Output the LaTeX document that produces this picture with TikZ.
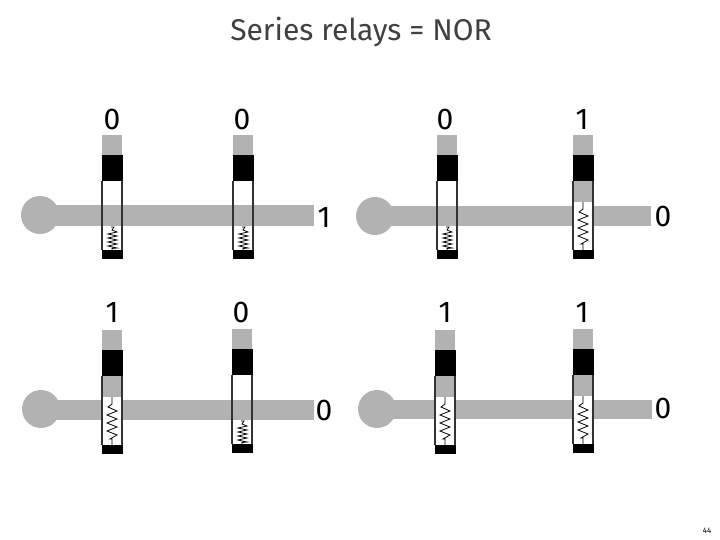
\documentclass[tikz,border=0pt]{standalone}
\usepackage{fontspec}
\setmainfont{Fira Sans}
\definecolor{relaygray}{HTML}{B2B2B2}
\tikzset{
  x=1pt,y=-1pt,
  bar/.style={draw=none,fill=relaygray},
  ball/.style={circle,fill=relaygray,draw=none,minimum size=38pt,inner sep=0pt},
  plate/.style={fill=black,draw=none},
  shell/.style={draw=black!80,line width=1.2pt},
  coil/.style={draw=black,line width=.8pt,line join=miter},
  bit/.style={font=\fontsize{30}{30}\selectfont,inner sep=0pt,anchor=center},
  titletext/.style={font=\fontsize{30}{32}\selectfont,text=black!75,inner sep=0pt}
}
% relay drawn from the top of its grey rod: #1 centre x, #2 top y
\newcommand\relayopen[2]{%
  \fill[relaygray] (#1-10,#2) rectangle (#1+10,#2+20);
  \fill[plate] (#1-10.5,#2+20) rectangle (#1+10.5,#2+46);
  \fill[plate] (#1-10.5,#2+115) rectangle (#1+10.5,#2+124);
  \draw[shell] (#1-10,#2+46) -- (#1-10,#2+115) (#1+10,#2+46) -- (#1+10,#2+115);
  \draw[coil] (#1-1,#2+92) -- (#1+2,#2+92) -- (#1,#2+95) -- (#1+5,#2+97) -- (#1-4,#2+99) -- (#1+5,#2+101) -- (#1-4,#2+103) -- (#1+5,#2+105) -- (#1-4,#2+107) -- (#1+5,#2+109) -- (#1-4,#2+111) -- (#1,#2+112) -- (#1+5,#2+113) -- (#1,#2+113.5) -- (#1,#2+115);
}
\newcommand\relayshut[2]{%
  \fill[relaygray] (#1-10,#2) rectangle (#1+10,#2+20);
  \fill[plate] (#1-10.5,#2+20) rectangle (#1+10.5,#2+46);
  \fill[relaygray] (#1-10,#2+46) rectangle (#1+10,#2+67);
  \fill[white] (#1-10,#2+67) rectangle (#1+10,#2+115);
  \fill[plate] (#1-10.5,#2+115) rectangle (#1+10.5,#2+124);
  \draw[shell] (#1-10,#2+46) -- (#1-10,#2+115) (#1+10,#2+46) -- (#1+10,#2+115);
  \draw[coil] (#1,#2+67) -- (#1,#2+74) -- (#1-4,#2+77) -- (#1+5,#2+81) -- (#1-5,#2+85) -- (#1+5,#2+89) -- (#1-5,#2+93) -- (#1+5,#2+97) -- (#1-5,#2+101) -- (#1+5,#2+105) -- (#1-2,#2+109) -- (#1,#2+109) -- (#1,#2+115);
}
\begin{document}
\begin{tikzpicture}
\useasboundingbox[fill=white] (0,0) rectangle (720,540);
\node[titletext] (title) at (361,32) {Series relays = NOR};

% bars, behind the relays
\node[ball] (ballA) at (40,215) {};
\coordinate (endA) at (314,216);
\fill[bar] (ballA.center) ++(0,-9.5) rectangle (endA|-0,226);
\node[ball] (ballB) at (375,216) {};
\coordinate (endB) at (651,216);
\fill[bar] (ballB.center) ++(0,-10) rectangle (endB|-0,226);
\node[ball] (ballC) at (41,409) {};
\coordinate (endC) at (314,410);
\fill[bar] (ballC.center) ++(0,-9) rectangle (endC|-0,420);
\node[ball] (ballD) at (377,409) {};
\coordinate (endD) at (652,408);
\fill[bar] (ballD.center) ++(0,-9) rectangle (endD|-0,419);

% relays
\relayopen{112}{135}
\relayopen{243}{135}
\relayopen{447}{135}
\relayshut{583}{135}
\relayshut{112}{330}
\relayopen{242}{329}
\relayshut{445}{330}
\relayshut{583}{329}

% input bits
\node[bit] (a1) at (112,119) {0};
\node[bit] (a2) at (242,119) {0};
\node[bit] (b1) at (445,119) {0};
\node[bit] (b2) at (582,119) {1};
\node[bit] (c1) at (112,312) {1};
\node[bit] (c2) at (241,312) {0};
\node[bit] (d1) at (445,312) {1};
\node[bit] (d2) at (582,312) {1};

% output bits
\node[bit] (outA) at (324,217) {1};
\node[bit] (outB) at (663,216) {0};
\node[bit] (outC) at (324,410) {0};
\node[bit] (outD) at (663,408) {0};

\node[font=\fontsize{8}{9}\selectfont,inner sep=0pt] (page) at (707,531) {44};
\end{tikzpicture}
\end{document}
